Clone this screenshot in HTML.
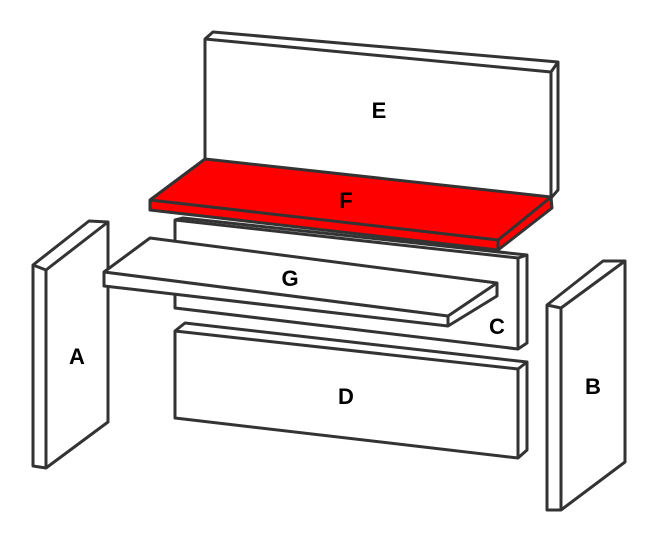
<!DOCTYPE html>
<html><head><style>body{margin:0;background:#fff}svg{display:block}</style></head><body>
<svg width="668" height="542" viewBox="0 0 668 542" xmlns="http://www.w3.org/2000/svg">
<g stroke="#333" stroke-width="3" stroke-linejoin="round" fill="#fff">
<!-- A -->
<polygon points="33,265 89,221 108,222 108,422 46,468 33,466"/>
<polyline points="33,265 46,270 108,222" fill="none"/>
<line x1="46" y1="270" x2="46" y2="468"/>
<!-- E -->
<polygon points="205,39 213,32 558,62 558,190 551,198 205,160"/>
<polyline points="205,39 551,72 558,62" fill="none"/>
<line x1="551" y1="72" x2="551" y2="198"/>
<!-- C -->
<polygon points="175,220 183,218 527,255 527,343 518,349 175,308"/>
<polyline points="175,220 518,258 527,255" fill="none"/>
<line x1="518" y1="258" x2="518" y2="349"/>
<!-- F -->
<polygon points="205,159 551,197 552,208 498,250 150,210 150,200" fill="#f00"/>
<polyline points="150,200 498,240 551,197" fill="none"/>
<line x1="498" y1="240" x2="498" y2="250"/>
<!-- G -->
<polygon points="150,238 497,283 497,296 448,326 104,286 104,272"/>
<polyline points="104,272 448,316 497,283" fill="none"/>
<line x1="448" y1="316" x2="448" y2="326"/>
<!-- D -->
<polygon points="175,331 185,323 527,362 527,450 518,458 175,418"/>
<polyline points="175,331 518,369 527,362" fill="none"/>
<line x1="518" y1="369" x2="518" y2="458"/>
<!-- B -->
<polygon points="547,305 603,261 625,261 625,462 561,510 547,510"/>
<polyline points="547,305 561,308 625,261" fill="none"/>
<line x1="561" y1="308" x2="561" y2="510"/>
</g>
<g font-family="Liberation Sans, sans-serif" font-weight="bold" font-size="22" fill="#000" text-anchor="middle">
<text x="379" y="118">E</text>
<text x="346" y="208">F</text>
<text x="290" y="286">G</text>
<text x="497" y="334">C</text>
<text x="346" y="404">D</text>
<text x="77" y="364">A</text>
<text x="593" y="394">B</text>
</g>
</svg>
</body></html>
